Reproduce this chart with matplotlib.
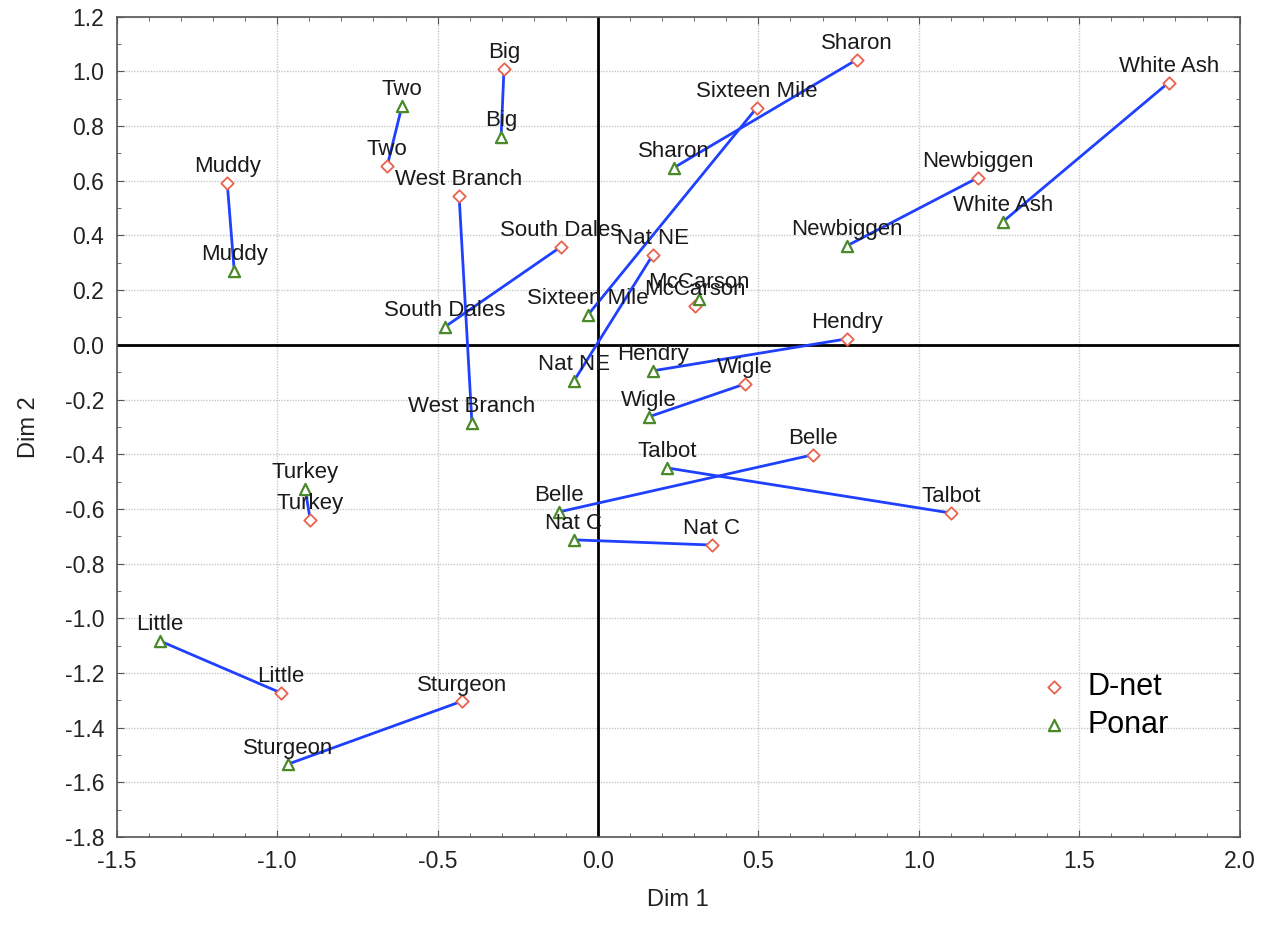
import matplotlib
matplotlib.use("Agg")
import matplotlib.pyplot as plt
from matplotlib.ticker import MultipleLocator, FormatStrFormatter

plt.rcParams['font.family'] = ['Liberation Sans', 'DejaVu Sans']

# sites, same order for both samplers
sites = ["Big", "Two", "Muddy", "West Branch", "South Dales", "Nat NE", "McCarson",
         "Sixteen Mile", "Sharon", "White Ash", "Newbiggen", "Hendry", "Wigle",
         "Belle", "Talbot", "Nat C", "Turkey", "Little", "Sturgeon"]

dnet_x = [-0.293, -0.657, -1.156, -0.433, -0.115, 0.171, 0.302,
          0.495, 0.807, 1.779, 1.184, 0.776, 0.458,
          0.670, 1.100, 0.355, -0.897, -0.988, -0.424]
dnet_y = [1.010, 0.655, 0.593, 0.545, 0.359, 0.329, 0.143,
          0.867, 1.043, 0.959, 0.611, 0.022, -0.143,
          -0.402, -0.615, -0.732, -0.640, -1.273, -1.303]

ponar_x = [-0.302, -0.611, -1.134, -0.393, -0.477, -0.075, 0.315,
           -0.031, 0.237, 1.262, 0.776, 0.171, 0.159,
           -0.122, 0.215, -0.075, -0.913, -1.365, -0.966]
ponar_y = [0.761, 0.874, 0.271, -0.285, 0.066, -0.132, 0.168,
           0.110, 0.648, 0.450, 0.362, -0.095, -0.263,
           -0.611, -0.450, -0.713, -0.527, -1.083, -1.533]

fig = plt.figure(figsize=(12.7, 9.26), dpi=100)
ax = fig.add_axes([0.092, 0.096, 0.884, 0.886])

ax.set_xlim(-1.5, 2.0)
ax.set_ylim(-1.8, 1.2)
ax.xaxis.set_major_locator(MultipleLocator(0.5))
ax.yaxis.set_major_locator(MultipleLocator(0.2))
ax.xaxis.set_minor_locator(MultipleLocator(0.1))
ax.yaxis.set_minor_locator(MultipleLocator(0.1))
ax.xaxis.set_major_formatter(FormatStrFormatter('%.1f'))
ax.yaxis.set_major_formatter(FormatStrFormatter('%.1f'))
ax.tick_params(which='both', direction='in', top=True, right=True, labelsize=16.5,
               colors='#555555', labelcolor='#222222')
ax.tick_params(which='major', length=5, pad=9)
ax.tick_params(which='minor', length=3)
ax.grid(True, which='major', color='#c8c8c8', linestyle=(0, (1, 1)), linewidth=1)
ax.set_axisbelow(True)
for s in ax.spines.values():
    s.set_color('#555555')
    s.set_linewidth(1.2)

ax.axhline(0, color='black', lw=2, zorder=2)
ax.axvline(0, color='black', lw=2, zorder=2)

# pair lines
for i in range(len(sites)):
    ax.plot([dnet_x[i], ponar_x[i]], [dnet_y[i], ponar_y[i]], color='#2040ff', lw=2, zorder=3)

ax.scatter(dnet_x, dnet_y, marker='D', s=40, facecolors='white', edgecolors='#e8624e',
           linewidths=1.3, zorder=4, label='D-net')
ax.scatter(ponar_x, ponar_y, marker='^', s=65, facecolors='white', edgecolors='#4b8a2a',
           linewidths=1.6, zorder=4, label='Ponar')

for i, name in enumerate(sites):
    ax.annotate(name, (dnet_x[i], dnet_y[i]), xytext=(0, 4), textcoords='offset points',
                ha='center', va='bottom', fontsize=16, color='#1a1a1a', zorder=5)
    ax.annotate(name, (ponar_x[i], ponar_y[i]), xytext=(0, 4), textcoords='offset points',
                ha='center', va='bottom', fontsize=16, color='#1a1a1a', zorder=5)

ax.set_xlabel('Dim 1', fontsize=17, labelpad=12, color='#222222')
ax.set_ylabel('Dim 2', fontsize=17, labelpad=18, color='#222222')

ax.legend(loc='lower right', bbox_to_anchor=(0.962, 0.085), frameon=False, fontsize=22,
          handlelength=1.0, handletextpad=0.6, labelspacing=0.25)

fig.savefig('out.png', dpi=100)
